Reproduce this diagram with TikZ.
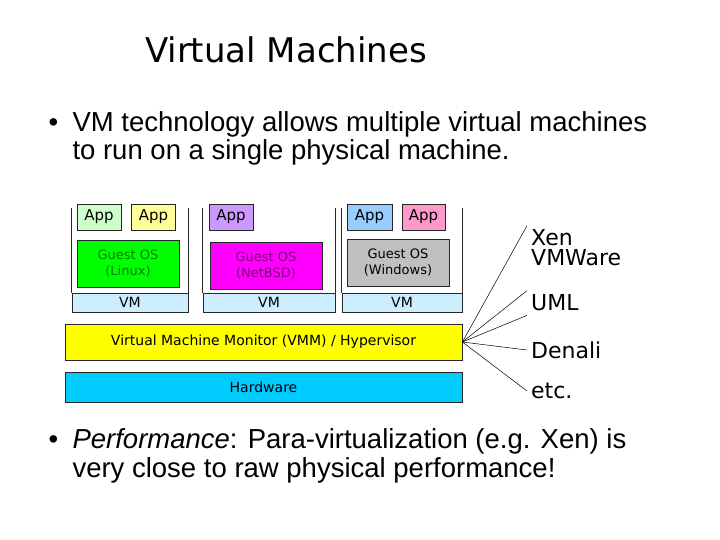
\documentclass[tikz,border=0pt]{standalone}
\usepackage{fontspec}
\setmainfont{Liberation Sans}
\newfontfamily\comicfont{DejaVu Sans}
\usetikzlibrary{positioning}

% colours of the layers
\definecolor{apppale}{HTML}{CCFFCC}
\definecolor{appyellow}{HTML}{FFFF99}
\definecolor{appviolet}{HTML}{CC99FF}
\definecolor{appblue}{HTML}{99CCFF}
\definecolor{apppink}{HTML}{FF99CC}
\definecolor{linuxgreen}{HTML}{00FF00}
\definecolor{linuxtext}{HTML}{008000}
\definecolor{bsdmagenta}{HTML}{FF00FF}
\definecolor{bsdtext}{HTML}{800080}
\definecolor{wingray}{HTML}{C0C0C0}
\definecolor{vmcyan}{HTML}{CCEEFF}
\definecolor{vmmyellow}{HTML}{FFFF00}
\definecolor{hwblue}{HTML}{00CCFF}

\tikzset{
  layer/.style={draw=black!85, line width=0.8pt, inner sep=0pt, align=center,
    font=\comicfont\fontsize{13}{16}\selectfont},
  appbox/.style={layer, minimum width=44pt, minimum height=26pt,
    font=\comicfont\fontsize{15}{16}\selectfont},
  guestbox/.style={layer, minimum height=47pt},
  vmbar/.style={layer, minimum height=19pt, fill=vmcyan,
    font=\comicfont\fontsize{14}{16}\selectfont},
  wide/.style={layer, minimum width=397pt, font=\comicfont\fontsize{14}{16}\selectfont},
  product/.style={inner sep=4pt, anchor=west, font=\comicfont\fontsize{22}{22}\selectfont},
  bullettext/.style={anchor=base west, font=\fontsize{27.5}{30}\selectfont},
  frame/.style={draw=black!85, line width=0.8pt}
}

\begin{document}
\begin{tikzpicture}[x=1pt, y=-1pt]
    \useasboundingbox (0,0) rectangle (720,540);

    % Title
    \node[font=\comicfont\fontsize{34}{36}\selectfont] (title) at (286,50) {Virtual Machines};

    % First bullet
    \node[bullettext] (dot1) at (45,132) {\textbullet};
    \node[bullettext] (line1a) at (69,132) {VM technology allows multiple virtual machines};
    \node[bullettext] (line1b) at (69,160) {to run on a single physical machine.};

    % First virtual machine (Linux)
    \node[appbox, fill=apppale] (app1a) at (99,217) {App};
    \node[appbox, fill=appyellow] (app1b) at (153.5,217) {App};
    \node[guestbox, fill=linuxgreen, text=linuxtext, minimum width=102pt] (guest1) at (128,264) {Guest OS\\(Linux)};
    \node[vmbar, minimum width=116pt] (vm1) at (130,302.5) {VM};
    \draw[frame] (vm1.north west) -- ++(0,-85);
    \draw[frame] (vm1.north east) -- ++(0,-85);

    % Second virtual machine (NetBSD)
    \node[appbox, fill=appviolet] (app2) at (231,217) {App};
    \node[guestbox, fill=bsdmagenta, text=bsdtext, minimum width=112pt] (guest2) at (266,266) {Guest OS\\(NetBSD)};
    \node[vmbar, minimum width=132pt] (vm2) at (269,302.5) {VM};
    \draw[frame] (vm2.north west) -- ++(0,-85);
    \draw[frame] (vm2.north east) -- ++(0,-85);

    % Third virtual machine (Windows)
    \node[appbox, fill=appblue, minimum width=45pt] (app3a) at (369.5,217) {App};
    \node[appbox, fill=apppink, minimum width=43pt] (app3b) at (423.5,217) {App};
    \node[guestbox, fill=wingray, minimum width=102pt] (guest3) at (398,263) {Guest OS\\(Windows)};
    \node[vmbar, minimum width=120pt] (vm3) at (402,302.5) {VM};
    \draw[frame] (vm3.north west) -- ++(0,-85);
    \draw[frame] (vm3.north east) -- ++(0,-85);

    % Monitor and hardware
    \node[wide, fill=vmmyellow, minimum height=36pt] (vmm) at (263.5,342) {Virtual Machine Monitor (VMM) / Hypervisor};
    \node[wide, fill=hwblue, minimum height=30pt] (hw) at (263.5,387) {Hardware};

    % Hypervisor products
    \node[product, align=left, font=\comicfont\fontsize{22}{20}\selectfont] (xen) at (527,248) {Xen\\VMWare};
    \node[product] (uml) at (527,303) {UML};
    \node[product] (denali) at (527,350) {Denali};
    \node[product] (etc) at (527,391) {etc.};

    \draw[line width=0.5pt] (vmm.east) -- (xen.north west);
    \draw[line width=0.5pt] (vmm.east) -- (uml.north west);
    \draw[line width=0.5pt] (vmm.east) -- (uml.south west);
    \draw[line width=0.5pt] (vmm.east) -- (denali.west);
    \draw[line width=0.5pt] (vmm.east) -- (etc.west);

    % Second bullet
    \node[bullettext] (dot2) at (45,448) {\textbullet};
    \node[bullettext] (line2a) at (69,448) {\textit{Performance}: Para-virtualization (e.g. Xen) is};
    \node[bullettext] (line2b) at (69,477) {very close to raw physical performance!};
\end{tikzpicture}
\end{document}
